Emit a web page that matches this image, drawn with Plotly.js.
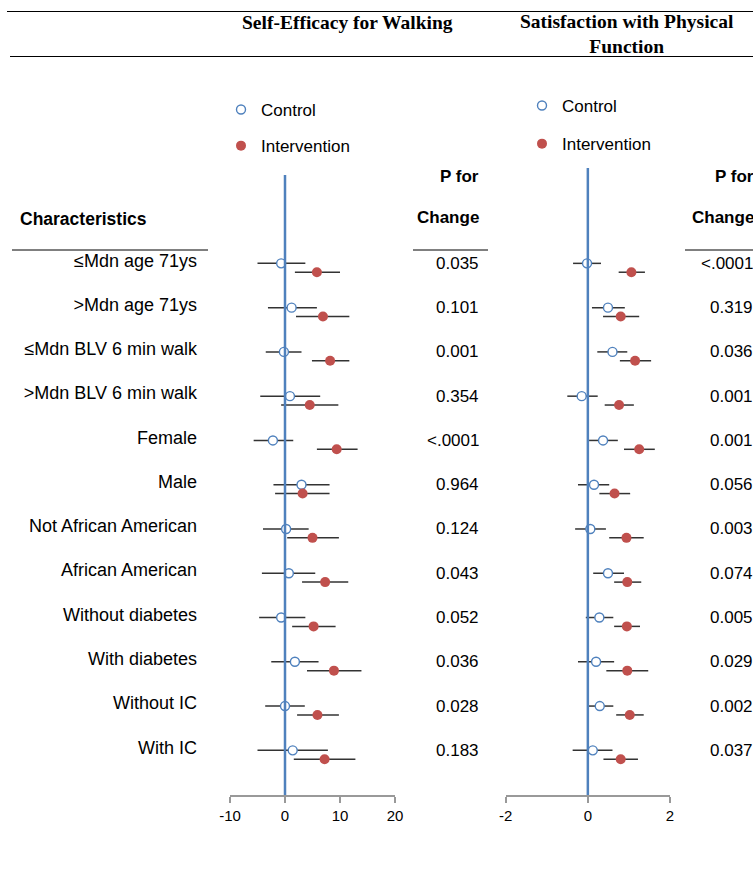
<!DOCTYPE html>
<html>
<head>
<meta charset="utf-8">
<script src="https://cdn.plot.ly/plotly-3.0.1.min.js"></script>
<style>html,body{margin:0;padding:0;background:#fff;}#chart{width:753px;height:870px;}</style>
</head>
<body>
<div id="chart"></div>
<script>
// ---- data ----
const characteristics = ["≤Mdn age 71ys", ">Mdn age 71ys", "≤Mdn BLV 6 min walk", ">Mdn BLV 6 min walk",
  "Female", "Male", "Not African American", "African American", "Without diabetes", "With diabetes",
  "Without IC", "With IC"];

// Self-Efficacy for Walking
const seControl   = [-0.7, 1.2, -0.2, 0.9, -2.2, 3.0, 0.2, 0.7, -0.7, 1.8, 0.0, 1.4];
const seControlLo = [-5.0, -3.1, -3.5, -4.5, -5.7, -2.1, -4.0, -4.2, -4.7, -2.5, -3.6, -5.0];
const seControlHi = [3.7, 5.8, 3.0, 6.4, 1.5, 8.1, 4.3, 5.5, 3.7, 6.1, 3.6, 7.8];
const seInterv    = [5.8, 6.9, 8.2, 4.5, 9.4, 3.2, 5.0, 7.3, 5.2, 8.9, 5.9, 7.2];
const seIntervLo  = [1.8, 2.0, 4.9, -0.7, 5.8, -1.8, 0.4, 3.1, 1.3, 4.0, 2.2, 1.6];
const seIntervHi  = [10.0, 11.7, 11.7, 9.7, 13.2, 8.1, 9.8, 11.5, 9.2, 13.9, 9.8, 12.8];
const seP = ["0.035", "0.101", "0.001", "0.354", "<.0001", "0.964", "0.124", "0.043", "0.052", "0.036", "0.028", "0.183"];

// Satisfaction with Physical Function
const spControl   = [-0.02, 0.49, 0.60, -0.15, 0.37, 0.15, 0.06, 0.49, 0.28, 0.20, 0.29, 0.12];
const spControlLo = [-0.36, 0.10, 0.23, -0.50, 0.03, -0.24, -0.31, 0.13, -0.05, -0.24, -0.02, -0.37];
const spControlHi = [0.32, 0.90, 0.96, 0.24, 0.73, 0.52, 0.44, 0.88, 0.62, 0.64, 0.62, 0.60];
const spInterv    = [1.06, 0.80, 1.15, 0.76, 1.25, 0.65, 0.94, 0.96, 0.95, 0.96, 1.02, 0.80];
const spIntervLo  = [0.75, 0.37, 0.78, 0.41, 0.88, 0.28, 0.52, 0.64, 0.64, 0.45, 0.69, 0.38];
const spIntervHi  = [1.39, 1.25, 1.54, 1.12, 1.63, 1.03, 1.36, 1.30, 1.27, 1.47, 1.36, 1.22];
const spP = ["<.0001", "0.319", "0.036", "0.001", "0.001", "0.056", "0.003", "0.074", "0.005", "0.029", "0.002", "0.037"];

const seTicks = [-10, 0, 10, 20];
const seTickText = ["-10", "0", "10", "20"];
const spTicks = [-2, 0, 2];
const spTickText = ["-2", "0", "2"];

// ---- helpers (layout) ----
const W = 753, H = 870;
const px = v => v / W;
const py = v => 1 - v / H;
const rowIdx = characteristics.map((_, i) => i);
const ctrlY = rowIdx.map(i => i - 0.1);
const intY = rowIdx.map(i => i + 0.1);
const diff = (a, b) => a.map((v, i) => v - b[i]);

const SANS = "Liberation Sans, Arial, sans-serif";
const SERIF = "Liberation Serif, Times New Roman, serif";
const BLUE = "#4F81BD";
const RED = "#C0504D";

function ctrlTrace(x, lo, hi, xa, ya, legend) {
  return {
    type: "scatter", mode: "markers", name: "Control", x: x, y: ctrlY, xaxis: xa, yaxis: ya,
    legend: legend, legendgroup: "c" + legend,
    marker: {symbol: "circle", size: 9, color: "#ffffff", line: {color: BLUE, width: 1.4}},
    error_x: {type: "data", symmetric: false, array: diff(hi, x), arrayminus: diff(x, lo),
              color: "#333333", thickness: 1.5, width: 0},
    hoverinfo: "x"
  };
}
function intTrace(x, lo, hi, xa, ya, legend) {
  return {
    type: "scatter", mode: "markers", name: "Intervention", x: x, y: intY, xaxis: xa, yaxis: ya,
    legend: legend, legendgroup: "i" + legend,
    marker: {symbol: "circle", size: 10, color: RED},
    error_x: {type: "data", symmetric: false, array: diff(hi, x), arrayminus: diff(x, lo),
              color: "#333333", thickness: 1.5, width: 0},
    hoverinfo: "x"
  };
}

const data = [
  ctrlTrace(seControl, seControlLo, seControlHi, "x", "y", "legend"),
  intTrace(seInterv, seIntervLo, seIntervHi, "x", "y", "legend"),
  ctrlTrace(spControl, spControlLo, spControlHi, "x2", "y2", "legend2"),
  intTrace(spInterv, spIntervLo, spIntervHi, "x2", "y2", "legend2")
];

const yDomain = [py(795), py(175)];
const yRange = [11.909, -2.096];

const annotations = [];
function ann(text, x, y, opts) {
  annotations.push(Object.assign({
    text: text, xref: "paper", yref: "paper", x: px(x), y: py(y), showarrow: false,
    xanchor: "center", yanchor: "middle", font: {family: SANS, size: 17, color: "#000"}
  }, opts || {}));
}
ann("<b>Self-Efficacy for Walking</b>", 347, 22, {font: {family: SERIF, size: 19.5, color: "#000"}});
ann("<b>Satisfaction with Physical<br>Function</b>", 627, 34, {font: {family: SERIF, size: 19.5, color: "#000"}});
ann("<b>Characteristics</b>", 18, 219, {xanchor: "left", font: {family: SANS, size: 17.5, color: "#000"}});
ann("<b>P for</b>", 481, 176, {xanchor: "right"});
ann("<b>Change</b>", 481, 217, {xanchor: "right"});
ann("<b>P for</b>", 756, 176, {xanchor: "right"});
ann("<b>Change</b>", 756, 217, {xanchor: "right"});
seP.forEach((p, i) => annotations.push({text: p, xref: "paper", yref: "y", x: px(481), y: i - 0.1,
  showarrow: false, xanchor: "right", yanchor: "middle", font: {family: SANS, size: 17, color: "#000"}}));
spP.forEach((p, i) => annotations.push({text: p, xref: "paper", yref: "y", x: px(755), y: i - 0.1,
  showarrow: false, xanchor: "right", yanchor: "middle", font: {family: SANS, size: 17, color: "#000"}}));

const hline = (x0, x1, y) => ({type: "line", xref: "paper", yref: "paper", x0: px(x0), x1: px(x1),
  y0: py(y), y1: py(y), line: {color: "#000", width: 1}});

const shapes = [
  hline(7, 753, 11.5), hline(10, 753, 56.5),
  hline(12, 208, 250), hline(413, 488, 250), hline(685, 753, 250),
  {type: "line", xref: "x", yref: "paper", x0: 0, x1: 0, y0: py(795), y1: py(175),
   line: {color: BLUE, width: 2.5}, layer: "above"},
  {type: "line", xref: "x2", yref: "paper", x0: 0, x1: 0, y0: py(795), y1: py(168),
   line: {color: BLUE, width: 2.5}, layer: "above"}
];

const xCommon = {showgrid: false, zeroline: false, showline: true, linecolor: "#999", linewidth: 1.5,
  ticks: "outside", ticklen: 6, tickcolor: "#999", tickwidth: 1.5,
  tickfont: {family: SANS, size: 15, color: "#000"}, fixedrange: true};

const legendCommon = {xanchor: "left", yanchor: "top", bgcolor: "rgba(0,0,0,0)", borderwidth: 0,
  font: {family: SANS, size: 17, color: "#000"}, itemwidth: 30, traceorder: "grouped",
  itemclick: false, itemdoubleclick: false};

const layout = {
  width: W, height: H, margin: {l: 0, r: 0, t: 0, b: 0},
  paper_bgcolor: "#fff", plot_bgcolor: "rgba(0,0,0,0)",
  showlegend: true,
  legend: Object.assign({x: px(221), y: py(92), tracegroupgap: 11}, legendCommon),
  legend2: Object.assign({x: px(522), y: py(88), tracegroupgap: 13}, legendCommon),
  xaxis: Object.assign({domain: [px(230), px(395)], range: [-10, 20], tickvals: seTicks, ticktext: seTickText, anchor: "y"}, xCommon),
  xaxis2: Object.assign({domain: [px(505.7), px(670)], range: [-2, 2], tickvals: spTicks, ticktext: spTickText, anchor: "y2"}, xCommon),
  yaxis: {domain: yDomain, range: yRange, anchor: "x", showgrid: false, zeroline: false, showline: false,
    tickvals: rowIdx.map(i => i - 0.17), ticktext: characteristics, ticks: "", ticklabelstandoff: 32,
    tickfont: {family: SANS, size: 18, color: "#000"}, fixedrange: true},
  yaxis2: {domain: yDomain, range: yRange, anchor: "x2", showgrid: false, zeroline: false, showline: false,
    showticklabels: false, ticks: "", fixedrange: true},
  annotations: annotations,
  shapes: shapes
};

Plotly.newPlot("chart", data, layout, {staticPlot: false, displayModeBar: false});
</script>
</body>
</html>
